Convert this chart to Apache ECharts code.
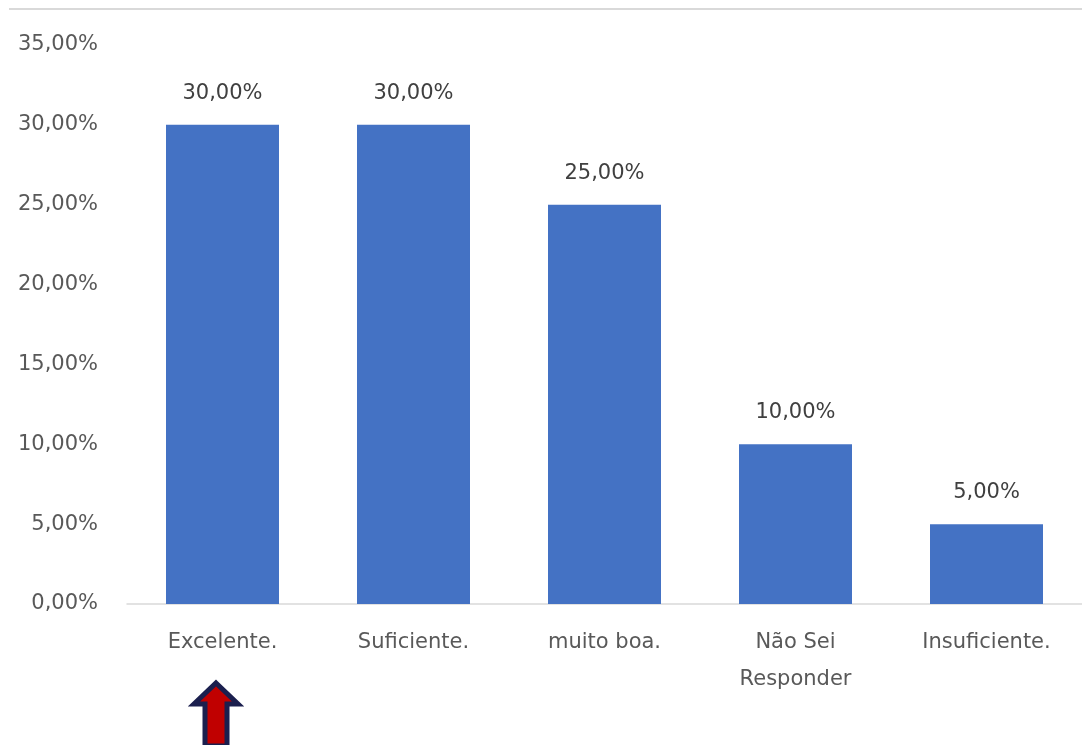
<!DOCTYPE html>
<html>
<head>
<meta charset="utf-8">
<script src="https://cdn.jsdelivr.net/npm/echarts@6/dist/echarts.min.js"></script>
<style>html,body{margin:0;padding:0;background:#fff}#c{width:1082px;height:745px}</style>
</head>
<body>
<div id="c"></div>
<script>
const categories = ['Excelente.', 'Suficiente.', 'muito boa.', 'Não Sei\nResponder', 'Insuficiente.'];
const values = [30, 30, 25, 10, 5];
const yTicks = { min: 0, max: 35, interval: 5 };

const fmt = v => v.toFixed(2).replace('.', ',') + '%';
const FONT = 'DejaVu Sans';
const chart = echarts.init(document.getElementById('c'));
chart.setOption({
  animation: false,
  backgroundColor: '#fff',
  grid: { left: 127, width: 959, top: 45, bottom: 141, containLabel: false },
  xAxis: {
    type: 'category',
    data: categories,
    axisLine: { lineStyle: { color: '#d9d9d9', width: 1.5 } },
    axisTick: { show: false },
    axisLabel: { color: '#595959', fontFamily: FONT, fontSize: 21, margin: 20, lineHeight: 37, interval: 0 }
  },
  yAxis: {
    type: 'value',
    min: yTicks.min, max: yTicks.max, interval: yTicks.interval,
    axisLine: { show: false },
    axisTick: { show: false },
    splitLine: { show: false },
    axisLabel: { color: '#595959', fontFamily: FONT, fontSize: 21, margin: 29, formatter: v => fmt(v) }
  },
  series: [{
    type: 'bar',
    data: values,
    barWidth: 113,
    itemStyle: { color: '#4472C4' },
    label: { show: true, position: 'top', distance: 21, color: '#404040', fontFamily: FONT, fontSize: 21, formatter: p => fmt(p.value) }
  }],
  graphic: [
    { type: 'line', shape: { x1: 9, y1: 9, x2: 1082, y2: 9 }, style: { stroke: '#d9d9d9', lineWidth: 2 } },
    { type: 'polygon', shape: { points: [[216, 683], [238, 704], [227, 704], [227, 746], [205, 746], [205, 704], [194, 704]] },
      style: { fill: '#c00000', stroke: '#1b1f4e', lineWidth: 5, lineJoin: 'miter' } }
  ]
});
</script>
</body>
</html>
